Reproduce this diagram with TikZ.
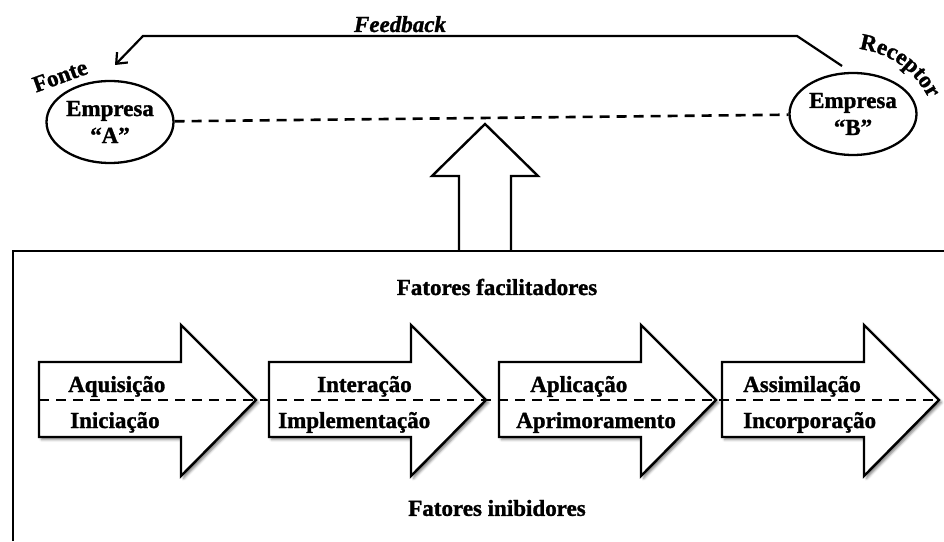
\documentclass[tikz,border=0pt]{standalone}
\usepackage{fontspec}
\setmainfont{Liberation Serif}[BoldFeatures={FakeBold=1.3},
  BoldItalicFeatures={FakeBold=1.3}]
\usetikzlibrary{shapes.geometric,arrows.meta,shadows.blur,decorations.text}
\begin{document}
\begin{tikzpicture}[x=1pt,y=1pt,
  lbl/.style={font=\fontsize{23}{27}\selectfont\bfseries, inner sep=0pt},
  firm/.style={ellipse, draw, line width=2.3pt, minimum width=127pt,
    minimum height=82pt, inner sep=0pt, align=center,
    font=\fontsize{23}{27}\selectfont\bfseries},
  stage/.style={draw, line width=2.4pt, fill=white,
    blur shadow={shadow xshift=2.5pt, shadow yshift=-2.5pt,
      shadow blur radius=2.5pt, shadow opacity=50}},
  dashline/.style={dash pattern=on 10pt off 7pt, line width=2.6pt}]
\useasboundingbox (0,0) rectangle (944,541);

% feedback loop from receptor back to source
\coordinate (fbR) at (842,475);
\coordinate (fbL) at (115,476);
\draw[line width=2.2pt, -{Straight Barb[length=9pt,width=15pt]}]
  (fbR) -- (797,505) -- (143,505) -- (fbL);
\node[lbl, font=\fontsize{23}{27}\selectfont\bfseries\itshape, anchor=base]
  (fb) at (400,509) {Feedback};

% the two firms
\node[firm] (A) at (110,419) {Empresa\\“A”};
\node[firm] (B) at (853,427) {Empresa\\“B”};
\draw[dashline] (A) -- (B);
\node[lbl, rotate=20] (fonte) at (60,465) {Fonte};
\path[decorate, decoration={text along path, text align=center,
  text={|\fontsize{23}{27}\selectfont\bfseries|Receptor}}]
  (852,493) to[bend left=30] (932,436);

% upward block arrow
\draw[line width=2.4pt, fill=white] (459,290) -- (459,365) -- (432,365)
  -- (485,417) -- (538,365) -- (511,365) -- (511,290);

% frame
\draw[line width=2.8pt] (13,0) -- (13,290) -- (944,290);
\node[lbl] (fac) at (497,254) {Fatores facilitadores};
\node[lbl] (ini) at (497,33) {Fatores inibidores};

% stage arrows
\foreach \L/\up/\ux/\lo/\lx [count=\i] in
  {39/Aquisição/68/Iniciação/70,
   269/Interação/317/Implementação/278,
   499/Aplicação/530/Aprimoramento/516,
   722/Assimilação/743/Incorporação/743}{
  \draw[stage] (\L,179) -- ++(142,0) -- ++(0,37) -- ++(75,-75)
    -- ++(-75,-76) -- ++(0,39) -- ++(-142,0) -- cycle;
  \node[lbl, anchor=base west] (up\i) at (\ux,149) {\up};
  \node[lbl, anchor=base west] (lo\i) at (\lx,113) {\lo};
}
\draw[dashline] (39,141) -- (938,141);
\end{tikzpicture}
\end{document}
